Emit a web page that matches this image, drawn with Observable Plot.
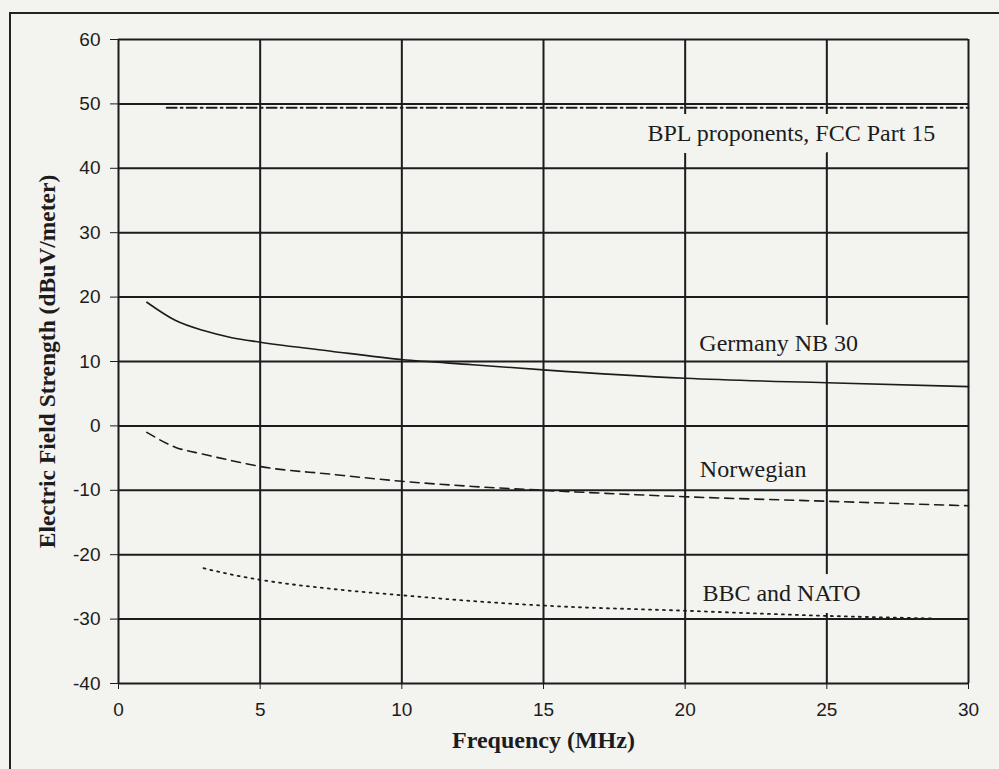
<!DOCTYPE html>
<html>
<head>
<meta charset="utf-8">
<script src="https://cdn.jsdelivr.net/npm/d3@7"></script>
<script src="https://cdn.jsdelivr.net/npm/@observablehq/plot@0.6"></script>
<style>
  html, body { margin: 0; padding: 0; background: #f3f3ef; overflow: hidden; }
  #wrap { position: relative; width: 999px; height: 769px; }
  #frame { position: absolute; left: 9px; top: 12px; width: 1000px; height: 800px;
           border-top: 2px solid #222; border-left: 2px solid #222; }
  #chart { position: absolute; left: 0; top: 0; }
</style>
</head>
<body>
<div id="wrap"><div id="frame"></div><div id="chart"></div></div>
<script>
// ---- data ----
const xTicks = [0, 5, 10, 15, 20, 25, 30];
const yTicks = [-40, -30, -20, -10, 0, 10, 20, 30, 40, 50, 60];

const germanyFreq = [1, 2, 3, 4, 5, 7.5, 10, 12.5, 15, 20, 25, 30];
const germanyVal  = [19.2, 16.4, 14.8, 13.7, 13.0, 11.6, 10.3, 9.5, 8.7, 7.4, 6.7, 6.1];

const norwegianFreq = [1, 2, 3, 4, 5, 7.5, 10, 12.5, 15, 20, 25, 30];
const norwegianVal  = [-1.0, -3.3, -4.4, -5.4, -6.3, -7.5, -8.6, -9.4, -10.0, -11.0, -11.7, -12.4];

const bbcFreq = [3, 4, 5, 7.5, 10, 12.5, 15, 20, 25, 28.7];
const bbcVal  = [-22.1, -23.1, -23.9, -25.3, -26.3, -27.2, -27.9, -28.7, -29.5, -29.9];

const fccFreq = [1.7, 30];
const fccVal  = [49.4, 49.4];

const labelText = ["BPL proponents, FCC Part 15", "Germany NB 30", "Norwegian", "BBC and NATO"];
const labelFreq = [23.75, 23.3, 22.4, 23.4];
const labelVal  = [45.4, 12.8, -6.8, -26.0];

const xLabel = "Frequency (MHz)";
const yLabel = "Electric Field Strength (dBuV/meter)";

// ---- tables ----
const toRows = (fs, vs) => fs.map((f, i) => ({f, v: vs[i]}));
const germany = toRows(germanyFreq, germanyVal);
const norwegian = toRows(norwegianFreq, norwegianVal);
const bbc = toRows(bbcFreq, bbcVal);
const fcc = toRows(fccFreq, fccVal);
const labels = labelText.map((t, i) => ({t, f: labelFreq[i], v: labelVal[i]}));

const BG = "#f3f3ef";
const INK = "#1c1c1c";
const SERIF = "Liberation Serif, Times New Roman, serif";

const chart = Plot.plot({
  width: 999,
  height: 769,
  marginLeft: 118,
  marginRight: 31,
  marginTop: 39,
  marginBottom: 86,
  style: {background: "transparent", fontFamily: "Liberation Sans, Arial, sans-serif", fontSize: "19px", color: INK},
  x: {domain: [0, 30]},
  y: {domain: [-40, 60]},
  marks: [
    Plot.ruleX(xTicks, {stroke: INK, strokeWidth: 2}),
    Plot.text(labels, {x: "f", y: "v", text: "t", fill: INK, stroke: BG, strokeWidth: 24,
      strokeLinejoin: "round", fontFamily: SERIF, fontSize: 24}),
    Plot.ruleY(yTicks, {stroke: INK, strokeWidth: 2}),
    Plot.line(germany, {x: "f", y: "v", stroke: INK, strokeWidth: 1.6, curve: "monotone-x"}),
    Plot.line(norwegian, {x: "f", y: "v", stroke: INK, strokeWidth: 1.6, strokeDasharray: "9,6", curve: "monotone-x"}),
    Plot.line(bbc, {x: "f", y: "v", stroke: INK, strokeWidth: 1.8, strokeDasharray: "2,5", curve: "monotone-x"}),
    Plot.line(fcc, {x: "f", y: "v", stroke: INK, strokeWidth: 1.8, strokeDasharray: "10,4,2,4"}),
    Plot.axisX({ticks: xTicks, tickSize: 6, tickPadding: 13, tickFormat: d => String(d), label: null, stroke: INK, fill: INK}),
    Plot.axisY({ticks: yTicks, tickSize: 8, tickPadding: 10, tickFormat: d => String(d), label: null, stroke: INK, fill: INK}),
    Plot.text([xLabel], {frameAnchor: "bottom", dy: 64, text: d => d, fill: INK, fontWeight: "bold",
      fontFamily: SERIF, fontSize: 24}),
    Plot.text([yLabel], {frameAnchor: "left", textAnchor: "middle", dx: -71, rotate: -90, text: d => d, fill: INK, fontWeight: "bold",
      fontFamily: SERIF, fontSize: 23.5})
  ]
});
document.getElementById("chart").appendChild(chart);
</script>
</body>
</html>
